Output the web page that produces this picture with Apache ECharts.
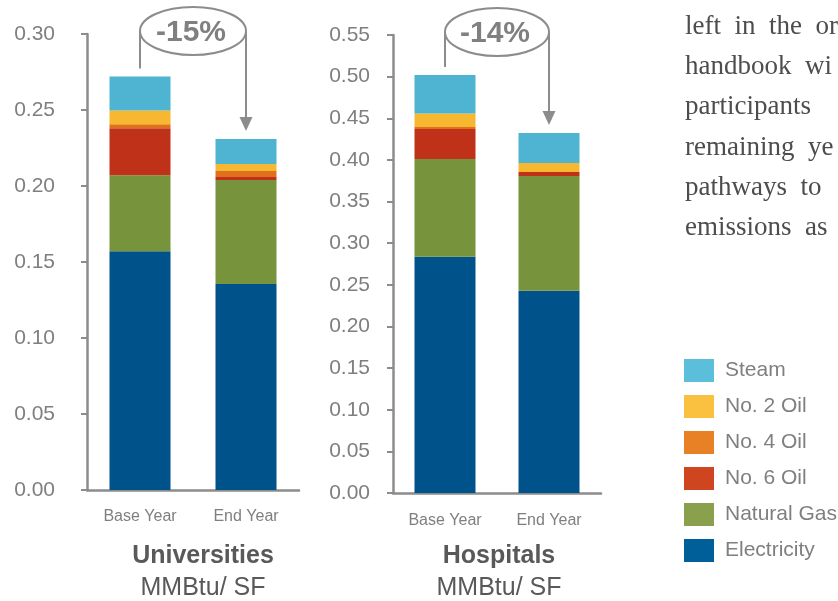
<!DOCTYPE html>
<html>
<head>
<meta charset="utf-8">
<script src="https://cdn.jsdelivr.net/npm/echarts@6/dist/echarts.min.js"></script>
<style>
  html, body { margin: 0; padding: 0; background: #ffffff; }
  #chart { width: 838px; height: 601px; }
</style>
</head>
<body>
<div id="chart"></div>
<script>
// Energy use intensity by fuel, MMBtu per square foot
const years = ['Base Year', 'End Year'];
const fuels = ['Electricity', 'Natural Gas', 'No. 6 Oil', 'No. 4 Oil', 'No. 2 Oil', 'Steam'];
const legendOrder = ['Steam', 'No. 2 Oil', 'No. 4 Oil', 'No. 6 Oil', 'Natural Gas', 'Electricity'];

// values per fuel, in the order of `fuels`
const univBase = [0.157, 0.050, 0.031, 0.0026, 0.009, 0.0224];
const univEnd  = [0.1355, 0.0684, 0.002, 0.004, 0.0046, 0.0164];
const hospBase = [0.2836, 0.1176, 0.036, 0.0024, 0.016, 0.0464];
const hospEnd  = [0.2428, 0.138, 0.0048, 0, 0.0108, 0.036];

const sectors = ['Universities', 'Hospitals'];
const unitLabel = 'MMBtu/ SF';
const axisMax = [0.30, 0.55];
const axisStep = 0.05;

const noteLines = ['left  in  the  or', 'handbook  wi', 'participants', 'remaining  ye', 'pathways  to', 'emissions  as'];

const barColors = {
  'Electricity': '#00538a',
  'Natural Gas': '#77933c',
  'No. 6 Oil': '#c0311a',
  'No. 4 Oil': '#e0701e',
  'No. 2 Oil': '#f6b731',
  'Steam': '#4fb3d2'
};
const swatchColors = {
  'Electricity': '#005f98',
  'Natural Gas': '#8aa04c',
  'No. 6 Oil': '#ce4520',
  'No. 4 Oil': '#e88125',
  'No. 2 Oil': '#fac040',
  'Steam': '#5bbfdb'
};

const FONT = "'Liberation Sans', Arial, sans-serif";
const GRAY = '#7f7f7f';
const AXIS = '#8c8c8c';

const panels = [
  { base: univBase, end: univEnd, grid: { left: 87, top: 34, width: 212, height: 456 }, labelMargin: 32, catMargin: 19, titleX: 203 },
  { base: hospBase, end: hospEnd, grid: { left: 393, top: 35, width: 208, height: 458 }, labelMargin: 23, catMargin: 20, titleX: 499 }
];

const chart = echarts.init(document.getElementById('chart'), null, { renderer: 'canvas' });

const series = [];
panels.forEach((p, g) => {
  fuels.forEach((f, i) => {
    series.push({
      name: f,
      type: 'bar',
      stack: 'panel' + g,
      xAxisIndex: g,
      yAxisIndex: g,
      barWidth: 61,
      data: [p.base[i], p.end[i]],
      itemStyle: { color: barColors[f] },
      emphasis: { disabled: true },
      animation: false
    });
  });
});

const option = {
  animation: false,
  backgroundColor: '#ffffff',
  grid: panels.map(p => Object.assign({ containLabel: false }, p.grid)),
  xAxis: panels.map((p, g) => ({
    type: 'category',
    gridIndex: g,
    data: years,
    axisLine: { lineStyle: { color: AXIS, width: 2.5 } },
    axisTick: { show: false },
    axisLabel: { color: GRAY, fontSize: 16, fontFamily: FONT, margin: p.catMargin }
  })),
  yAxis: panels.map((p, g) => ({
    type: 'value',
    gridIndex: g,
    min: 0,
    max: axisMax[g],
    interval: axisStep,
    splitLine: { show: false },
    axisLine: { show: true, lineStyle: { color: AXIS, width: 2.5 } },
    axisTick: { show: true, length: 6, lineStyle: { color: AXIS, width: 2 } },
    axisLabel: {
      color: GRAY, fontSize: 21, fontFamily: FONT, margin: p.labelMargin,
      formatter: v => v.toFixed(2)
    }
  })),
  legend: {
    orient: 'vertical',
    left: 684,
    top: 359,
    padding: 0,
    itemWidth: 30,
    itemHeight: 23,
    itemGap: 13,
    icon: 'rect',
    selectedMode: false,
    textStyle: { color: GRAY, fontSize: 21, fontFamily: FONT, padding: [0, 0, 0, 6] },
    data: legendOrder.map(n => ({ name: n, itemStyle: { color: swatchColors[n] } }))
  },
  series: series
};

chart.setOption(option);

// Annotations: sector titles, change callouts and the side paragraph
const graphics = [];
const sum = a => a.reduce((s, v) => s + v, 0);

panels.forEach((p, g) => {
  graphics.push({
    type: 'text', x: p.titleX, y: 556,
    style: { text: sectors[g], fill: '#595959', font: "bold 25px " + FONT, textAlign: 'center', textVerticalAlign: 'middle' }
  });
  graphics.push({
    type: 'text', x: p.titleX, y: 588,
    style: { text: unitLabel, fill: '#595959', font: "25px " + FONT, textAlign: 'center', textVerticalAlign: 'middle' }
  });

  const baseTotal = sum(p.base);
  const endTotal = sum(p.end);
  const pct = Math.round((endTotal - baseTotal) / baseTotal * 100);
  const ref = { xAxisIndex: g, yAxisIndex: g };
  const b = chart.convertToPixel(ref, [0, baseTotal]);
  const e = chart.convertToPixel(ref, [1, endTotal]);
  const cy = p.grid.top - 3;
  const cx = (b[0] + e[0]) / 2;
  const rx = (e[0] - b[0]) / 2;
  const lineStyle = { stroke: '#8c8c8c', lineWidth: 2 };

  graphics.push({ type: 'line', shape: { x1: b[0], y1: cy, x2: b[0], y2: b[1] - 8 }, style: lineStyle });
  graphics.push({ type: 'line', shape: { x1: e[0], y1: cy, x2: e[0], y2: e[1] - 20 }, style: lineStyle });
  graphics.push({
    type: 'polygon',
    shape: { points: [[e[0] - 6.5, e[1] - 22], [e[0] + 6.5, e[1] - 22], [e[0], e[1] - 8]] },
    style: { fill: '#8c8c8c' }
  });
  graphics.push({
    type: 'ellipse',
    shape: { cx: cx, cy: cy, rx: rx, ry: 24 },
    style: { fill: '#ffffff', stroke: '#8c8c8c', lineWidth: 2 }
  });
  graphics.push({
    type: 'text', x: cx - 2, y: cy + 2,
    style: { text: pct + '%', fill: '#808080', font: "bold 30px " + FONT, textAlign: 'center', textVerticalAlign: 'middle' }
  });
});

noteLines.forEach((line, i) => {
  graphics.push({
    type: 'text', x: 685, y: 27 + i * 40.2,
    style: { text: line, fill: '#4d4d4d', font: "27px 'Liberation Serif', 'Times New Roman', serif", textAlign: 'left', textVerticalAlign: 'middle' }
  });
});

chart.setOption({ graphic: graphics });
</script>
</body>
</html>
